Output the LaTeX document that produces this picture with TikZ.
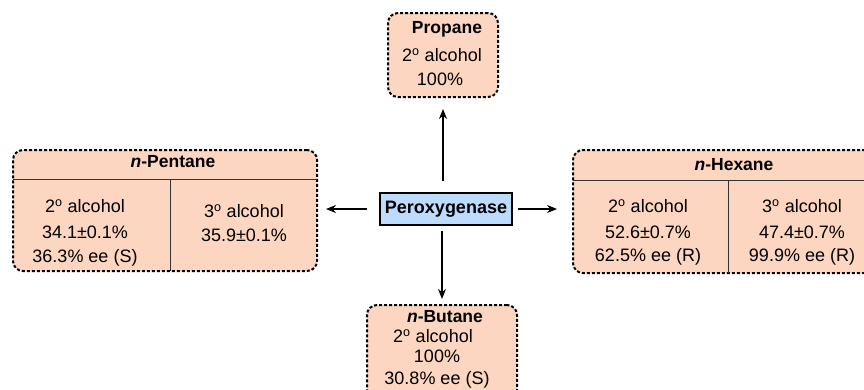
\documentclass[tikz,border=0pt]{standalone}
\usepackage{fontspec}
\setmainfont{Liberation Sans}
\usetikzlibrary{arrows.meta}
\definecolor{peach}{RGB}{252,214,192}
\definecolor{lblue}{RGB}{189,220,253}
\tikzset{
  resbox/.style={draw=black, fill=peach, line width=2pt, dash pattern=on 3pt off 2pt,
    rounded corners=10pt, inner sep=0pt},
  enzbox/.style={draw=black, fill=lblue, line width=1.8pt, inner sep=0pt,
    minimum width=132pt, minimum height=32pt, font=\fontsize{18}{22}\selectfont\bfseries},
  lbl/.style={inner sep=0pt, text height=13pt, text depth=3.5pt, anchor=center},
  hdr/.style={lbl, font=\fontsize{17.5}{22}\selectfont\bfseries},
  arr/.style={line width=1.2pt, -{Stealth[length=10pt,width=8pt]}},
  divider/.style={line width=1pt, black!80}
}
\newcommand{\dg}{\textsuperscript{o}}
\begin{document}
\begin{tikzpicture}[x=1pt, y=-1pt, font=\fontsize{18}{22}\selectfont]
\useasboundingbox (0,0) rectangle (864,389);
% boxes
\node[resbox, minimum width=110pt, minimum height=84pt] (propane) at (443,55) {};
\node[resbox, minimum width=304pt, minimum height=121pt] (pentane) at (165,210.5) {};
\node[resbox, minimum width=307pt, minimum height=123pt] (hexane) at (726.5,211.5) {};
\node[resbox, minimum width=150pt, minimum height=95pt] (butane) at (442,352.5) {};
\node[enzbox] (perox) at (446,209) {Peroxygenase};
% dividers
\coordinate (pl) at (13,179); \coordinate (pr) at (317,179);
\coordinate (pt) at (170,179); \coordinate (pb) at (170,271);
\draw[divider] (pl) -- (pr);
\draw[divider] (pt) -- (pb);
\coordinate (hl) at (573,180); \coordinate (hr) at (880,180);
\coordinate (ht) at (728,180); \coordinate (hb) at (728,273);
\draw[divider] (hl) -- (hr);
\draw[divider] (ht) -- (hb);
% propane text
\node[hdr] (t1) at (447,29) {Propane};
\node[lbl] (t2) at (442,57) {2\dg{} alcohol};
\node[lbl] (t3) at (440,81) {100\%};
% pentane text
\node[hdr] (t4) at (173,163) {\textit{n}-Pentane};
\node[lbl] (t5) at (85,208) {2\dg{} alcohol};
\node[lbl] (t6) at (85,234) {34.1±0.1\%};
\node[lbl] (t7) at (85,258) {36.3\% ee (S)};
\node[lbl] (t8) at (244,213) {3\dg{} alcohol};
\node[lbl] (t9) at (244,237) {35.9±0.1\%};
% hexane text
\node[hdr] (t10) at (734,166) {\textit{n}-Hexane};
\node[lbl] (t11) at (648,208) {2\dg{} alcohol};
\node[lbl] (t12) at (648,234) {52.6±0.7\%};
\node[lbl] (t13) at (648,257) {62.5\% ee (R)};
\node[lbl] (t14) at (802,208) {3\dg{} alcohol};
\node[lbl] (t15) at (802,234) {47.4±0.7\%};
\node[lbl] (t16) at (802,257) {99.9\% ee (R)};
% butane text
\node[hdr] (t17) at (445,318) {\textit{n}-Butane};
\node[lbl] (t18) at (433,338) {2\dg{} alcohol};
\node[lbl] (t19) at (437,358) {100\%};
\node[lbl] (t20) at (437,380) {30.8\% ee (S)};
% arrows
\draw[arr, shorten <=11pt, shorten >=11pt] (perox.north -| propane.south) -- (propane.south);
\draw[arr, shorten <=5pt, shorten >=5pt] (perox.south -| butane.north) -- (butane.north);
\draw[arr, shorten <=12pt, shorten >=8pt] (perox.west) -- (perox.west -| pentane.east);
\draw[arr, shorten <=5pt, shorten >=15pt] (perox.east) -- (perox.east -| hexane.west);
\end{tikzpicture}
\end{document}
